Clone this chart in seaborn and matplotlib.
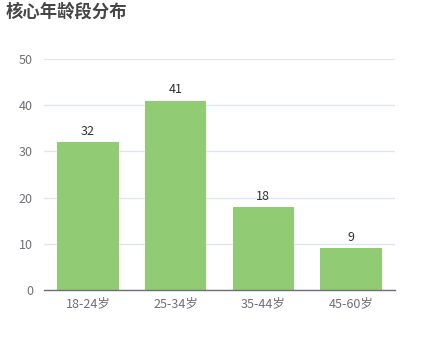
import matplotlib
matplotlib.use("Agg")
import matplotlib.pyplot as plt
import seaborn as sns
import pandas as pd
from matplotlib.ticker import FixedLocator

categories = ["18-24岁", "25-34岁", "35-44岁", "45-60岁"]
values = [32, 41, 18, 9]
title = "核心年龄段分布"

sns.set_theme(style="white")
plt.rcParams['font.family'] = ['Noto Sans CJK SC', 'DejaVu Sans']

df = pd.DataFrame({"cat": categories, "val": values})

fig = plt.figure(figsize=(4.38, 3.6), dpi=100)
ax = fig.add_axes([44/438, 1-290/360, 351/438, 231/360])

sns.barplot(data=df, x="cat", y="val", color="#91CC75", saturation=1, width=0.7,
            linewidth=0, edgecolor="none", ax=ax)

ax.set_xlim(-0.5, len(categories) - 0.5)
ax.set_ylim(0, 50)
ax.set_yticks([0, 10, 20, 30, 40, 50])
ax.yaxis.grid(True, color="#E0E6F1", linewidth=1)
ax.set_axisbelow(True)
for s in ["top", "right", "left"]:
    ax.spines[s].set_visible(False)
ax.spines["bottom"].set_color("#6E7079")
ax.spines["bottom"].set_linewidth(1)

ax.set_xlabel("")
ax.set_ylabel("")
ax.tick_params(axis="y", length=0, labelsize=9, labelcolor="#6E7079", pad=8)
ax.tick_params(axis="x", which="major", length=0, labelsize=9, labelcolor="#6E7079", pad=5)
ax.xaxis.set_minor_locator(FixedLocator([i - 0.5 for i in range(len(categories) + 1)]))
ax.tick_params(axis="x", which="minor", length=4, color="#6E7079", width=1, direction="out")

for c in ax.containers:
    ax.bar_label(c, labels=[str(v) for v in values], padding=3, fontsize=9, color="#333333")

fig.text(6/438, 1-12/360, title, fontsize=12.5, fontweight="bold", color="#464646", va="center", ha="left")

fig.savefig("out.png", dpi=100)
